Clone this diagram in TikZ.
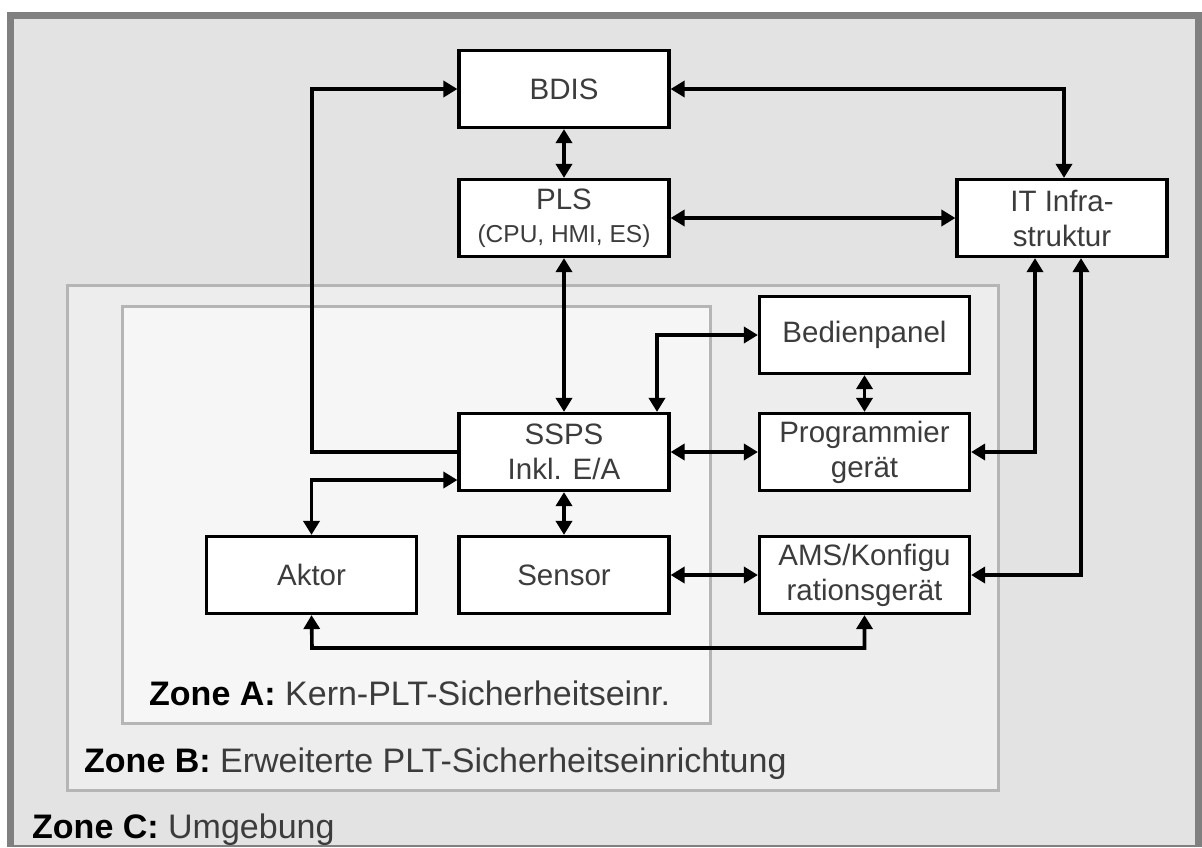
\documentclass[tikz,border=0pt]{standalone}
\usepackage{fontspec}
\setmainfont{Liberation Sans}
\usetikzlibrary{arrows.meta}
\definecolor{frame}{HTML}{808080}
\definecolor{bgc}{HTML}{E3E3E3}
\definecolor{zbfill}{HTML}{EDEDED}
\definecolor{zafill}{HTML}{F6F6F6}
\definecolor{zline}{HTML}{B5B5B5}
\definecolor{txt}{HTML}{3C3C3C}
\begin{document}
\begin{tikzpicture}[x=1pt,y=-1pt,
  blk/.style={draw=black, line width=3.2pt, fill=white, minimum width=210pt, minimum height=77pt,
    inner sep=0pt, align=center, text=txt, font=\fontsize{29.5}{35}\selectfont},
  conn/.style={line width=3.6pt, draw=black, {Triangle[length=14pt,width=16pt]}-{Triangle[length=14pt,width=16pt]}},
  oneway/.style={line width=3.6pt, draw=black, -{Triangle[length=14pt,width=16pt]}},
  zonebox/.style={draw=zline, line width=3pt},
  zonelbl/.style={anchor=base west, inner sep=0pt, text=txt, font=\fontsize{34}{40}\selectfont}
]
\useasboundingbox (0,0) rectangle (1202,847);
\fill[white] (0,0) rectangle (1202,847);
\fill[frame] (7,12) rectangle (1202,847);
\fill[bgc] (14,19) rectangle (1195,845);
\draw[zonebox, fill=zbfill] (67,285) rectangle (998,790);
\draw[zonebox, fill=zafill] (122,306) rectangle (710,723);

\node[zonelbl] (za) at (149,705) {\textbf{\color{black}Zone A:} Kern-PLT-Sicherheitseinr.};
\node[zonelbl] (zb) at (84,772) {\textbf{\color{black}Zone B:} Erweiterte PLT-Sicherheitseinrichtung};
\node[zonelbl] (zc) at (32,838) {\textbf{\color{black}Zone C:} Umgebung};

\node[blk] (bdis) at (564,89) {BDIS};
\node[blk] (pls) at (564,218) {PLS\\[-2pt]{\fontsize{24.5}{28}\selectfont (CPU, HMI, ES)}};
\node[blk] (it) at (1062,218) {IT Infra-\\struktur};
\node[blk] (bed) at (864.5,335) {Bedienpanel};
\node[blk] (ssps) at (564,452) {SSPS\\Inkl. E/A};
\node[blk] (prog) at (864.5,452) {Programmier\\gerät};
\node[blk] (aktor) at (311.5,575) {Aktor};
\node[blk] (sensor) at (564,575) {Sensor};
\node[blk] (ams) at (864.5,575) {AMS/Konfigu\\rationsgerät};

\coordinate (loop) at (312,89);
\draw[oneway] (ssps.west) -| (loop) -- (bdis.west);
\draw[conn] ([yshift=-28pt]ssps.west) -| (aktor.north);
\draw[conn] (bdis.south) -- (pls.north);
\draw[conn] (pls.south) -- (ssps.north);
\draw[conn] (ssps.south) -- (sensor.north);
\draw[conn] (bdis.east) -| ([xshift=2pt]it.north);
\draw[conn] (pls.east) -- (it.west);
\draw[conn] ([xshift=-27pt]it.south) |- (prog.east);
\draw[conn] ([xshift=19pt]it.south) |- (ams.east);
\draw[conn] ([xshift=93pt]ssps.north) |- (bed.west);
\draw[conn] (bed.south) -- (prog.north);
\draw[conn] (ssps.east) -- (prog.west);
\draw[conn] (sensor.east) -- (ams.west);
\coordinate (bot) at (312,648);
\draw[conn] (aktor.south) -- (bot) -| (ams.south);
\end{tikzpicture}
\end{document}
